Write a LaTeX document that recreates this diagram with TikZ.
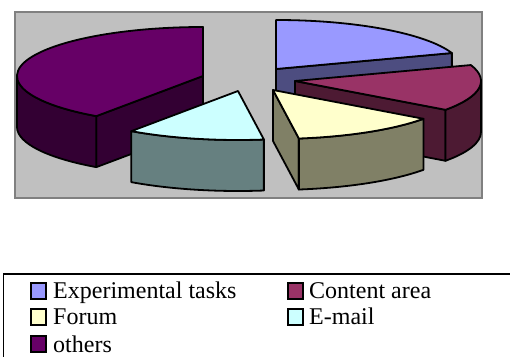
\documentclass[tikz,border=0pt]{standalone}
\usepackage{fontspec}
\setmainfont{Liberation Serif}
\usepackage{tikz}
\usetikzlibrary{positioning}
\definecolor{chartBg}{HTML}{C0C0C0}
\definecolor{chartRim}{HTML}{808080}
\definecolor{expTop}{HTML}{9999FF}
\definecolor{expSide}{HTML}{4D4D80}
\definecolor{conTop}{HTML}{993366}
\definecolor{conSide}{HTML}{4D1A33}
\definecolor{forTop}{HTML}{FFFFCC}
\definecolor{forSide}{HTML}{808066}
\definecolor{emTop}{HTML}{CCFFFF}
\definecolor{emSide}{HTML}{668080}
\definecolor{othTop}{HTML}{660066}
\definecolor{othSide}{HTML}{330033}

\begin{document}
\begin{tikzpicture}[x=1pt, y=1pt,
        face/.style={draw=black, line width=1.8pt, line join=round},
        legkey/.style={draw=black, line width=1.8pt, minimum size=15.5pt, inner sep=0pt},
        legtxt/.style={anchor=base west, inner sep=0pt, font=\fontsize{24}{28}\selectfont}]
        \useasboundingbox (0,0) rectangle (510,356);
        \draw [fill=chartBg, draw=chartRim, line width=1.5pt] (15,158) rectangle (482,344);
        \coordinate (B) at (276,287); 
        \coordinate (C) at (295,275); 
        \coordinate (F) at (273,266); 
        \coordinate (E) at (238,265); 
        \coordinate (O) at (203,280); 
        \filldraw [face, fill=expSide] (B) -- ++(19:186 and 49) -- ++(0,-51) -- ([yshift=-51pt]B) -- cycle; 
        \filldraw [face, fill=expTop] (B) -- ++(90:186 and 49) arc [start angle=90, end angle=19, x radius=186, y radius=49] -- cycle; 
        \filldraw [face, fill=othSide] (O) -- ++(-125:186 and 49) -- ++(0,-51) -- ([yshift=-51pt]O) -- cycle; 
        \filldraw [face, fill=othSide] ([shift={(-125:186 and 49)}]O) arc [start angle=-125, end angle=-180, x radius=186, y radius=49] -- ++(0,-51) arc [start angle=-180, end angle=-125, x radius=186, y radius=49] -- cycle; 
        \filldraw [face, fill=othTop] (O) -- ++(-125:186 and 49) arc [start angle=-125, end angle=-270, x radius=186, y radius=49] -- cycle; 
        \filldraw [face, fill=conSide] (C) -- ++(-36:186 and 49) -- ++(0,-51) -- ([yshift=-51pt]C) -- cycle; 
        \filldraw [face, fill=conSide] ([shift={(0:186 and 49)}]C) arc [start angle=0, end angle=-36, x radius=186, y radius=49] -- ++(0,-51) arc [start angle=-36, end angle=0, x radius=186, y radius=49] -- cycle; 
        \filldraw [face, fill=conTop] (C) -- ++(19:186 and 49) arc [start angle=19, end angle=-36, x radius=186, y radius=49] -- cycle; 
        \filldraw [face, fill=emSide] ([shift={(-82:186 and 49)}]E) arc [start angle=-82, end angle=-125, x radius=186, y radius=49] -- ++(0,-51) arc [start angle=-125, end angle=-82, x radius=186, y radius=49] -- cycle; 
        \filldraw [face, fill=emTop] (E) -- ++(-82:186 and 49) arc [start angle=-82, end angle=-125, x radius=186, y radius=49] -- cycle; 
        \filldraw [face, fill=forSide] (F) -- ++(-82:186 and 49) -- ++(0,-51) -- ([yshift=-51pt]F) -- cycle; 
        \filldraw [face, fill=forSide] ([shift={(-36:186 and 49)}]F) arc [start angle=-36, end angle=-82, x radius=186, y radius=49] -- ++(0,-51) arc [start angle=-82, end angle=-36, x radius=186, y radius=49] -- cycle; 
        \filldraw [face, fill=forTop] (F) -- ++(-36:186 and 49) arc [start angle=-36, end angle=-82, x radius=186, y radius=49] -- cycle; 
        \draw [line width=1.8pt] (3.5,82) rectangle (530,-20); 
        \node [legkey, fill=expTop] (kexp) at (38.5,65) {}; 
        \node [legtxt] (texp) at (53,58) {Experimental tasks}; 
        \node [legkey, fill=conTop] (kcon) at (295.5,65) {}; 
        \node [legtxt] (tcon) at (309,58) {Content area}; 
        \node [legkey, fill=forTop] (kfor) at (38.5,39) {}; 
        \node [legtxt] (tfor) at (53,32) {Forum}; 
        \node [legkey, fill=emTop] (kem) at (295.5,39) {}; 
        \node [legtxt] (tem) at (309,32) {E-mail}; 
        \node [legkey, fill=othTop] (koth) at (38.5,12) {}; 
        \node [legtxt] (toth) at (53,4) {others}; 
\end{tikzpicture}
\end{document}
